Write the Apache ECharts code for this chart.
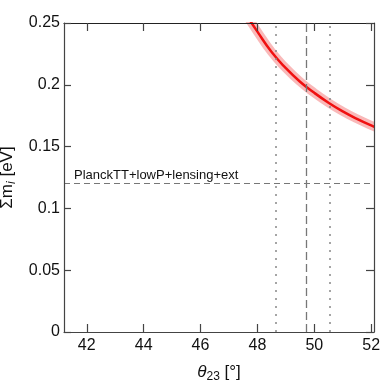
<!DOCTYPE html>
<html>
<head>
<meta charset="utf-8">
<script src="https://cdn.jsdelivr.net/npm/echarts@6/dist/echarts.min.js"></script>
<style>html,body{margin:0;padding:0;background:#fff}#c{width:382px;height:383px}</style>
</head>
<body>
<div id="c"></div>
<script>
// ---- data ----
const theta23 = [47.5, 48.0, 48.5, 49.0, 49.5, 50.0, 50.5, 51.0, 51.5, 52.0, 52.5];
const sumMass = [0.2605, 0.243, 0.2265, 0.2135, 0.2025, 0.1935, 0.1855, 0.1785, 0.1725, 0.1672, 0.1625];
const dottedTheta = [48.66, 50.56];
const dashedTheta = [49.71];
const planckLimit = 0.12;
const planckLabel = 'PlanckTT+lowP+lensing+ext';
const xTicks = [42, 44, 46, 48, 50, 52];

const font = "'Liberation Sans', Arial, sans-serif";
const pts = theta23.map((x, i) => [x, sumMass[i]]);
const axisLineStyle = { color: '#444', width: 1.2 };
const G = { left: 64, right: 8, top: 23, bottom: 51 };
const W = 382, H = 383;

const chart = echarts.init(document.getElementById('c'));
chart.setOption({
  animation: false,
  backgroundColor: '#fff',
  grid: { left: G.left, right: G.right, top: G.top, bottom: G.bottom, outerBoundsMode: 'none', containLabel: false },
  // white masks hiding the thick band's overflow outside the plot box
  graphic: [
    { type: 'rect', z: 5, silent: true, shape: { x: W - G.right + 1, y: 0, width: G.right, height: H }, style: { fill: '#fff' } },
    { type: 'rect', z: 5, silent: true, shape: { x: G.left, y: 0, width: W - G.left, height: G.top - 1 }, style: { fill: '#fff' } }
  ],
  xAxis: [{
    type: 'value', min: 41.2, max: 52.1, position: 'bottom', z: 10,
    axisLine: { show: true, onZero: false, lineStyle: axisLineStyle },
    axisTick: { show: true, inside: true, length: 8, customValues: xTicks, lineStyle: axisLineStyle },
    axisLabel: { customValues: xTicks, fontSize: 16, color: '#111', fontFamily: font, margin: 6 },
    splitLine: { show: false },
    name: '{t|θ}{s|23}{n| [°]}', nameLocation: 'middle', nameGap: 30,
    nameTextStyle: {
      fontFamily: font, color: '#111',
      rich: {
        t: { fontSize: 17, fontStyle: 'italic', fontFamily: font, color: '#111' },
        s: { fontSize: 12, fontFamily: font, color: '#111', padding: [9, 0, 0, 0] },
        n: { fontSize: 17, fontFamily: font, color: '#111' }
      }
    }
  }, {
    type: 'value', min: 41.2, max: 52.1, position: 'top', z: 10,
    axisLine: { show: true, onZero: false, lineStyle: { color: '#222', width: 1.2 } },
    axisTick: { show: true, inside: true, length: 8, customValues: xTicks, lineStyle: axisLineStyle },
    axisLabel: { show: false },
    splitLine: { show: false }
  }],
  yAxis: [{
    type: 'value', min: 0, max: 0.25, interval: 0.05, position: 'left', z: 10,
    axisLine: { show: true, onZero: false, lineStyle: axisLineStyle },
    axisTick: { show: true, inside: true, length: 7, lineStyle: axisLineStyle },
    axisLabel: { fontSize: 16, color: '#111', fontFamily: font, margin: 4 },
    splitLine: { show: false },
    name: '{t|Σm}{s|i}{n| [eV]}', nameLocation: 'middle', nameGap: 42, nameRotate: 90,
    nameTextStyle: {
      fontFamily: font, color: '#111',
      rich: {
        t: { fontSize: 17, fontFamily: font, color: '#111' },
        s: { fontSize: 12, fontStyle: 'italic', fontFamily: font, color: '#111', padding: [9, 0, 0, 0] },
        n: { fontSize: 17, fontFamily: font, color: '#111' }
      }
    }
  }, {
    type: 'value', min: 0, max: 0.25, interval: 0.05, position: 'right', z: 10,
    axisLine: { show: true, onZero: false, lineStyle: axisLineStyle },
    axisTick: { show: true, inside: true, length: 8, lineStyle: axisLineStyle },
    axisLabel: { show: false },
    splitLine: { show: false }
  }],
  series: [
    {
      type: 'line', data: [], silent: true, z: 1,
      markLine: {
        silent: true, symbol: 'none', animation: false,
        data: [
          { yAxis: planckLimit, lineStyle: { type: [6, 4], color: '#777', width: 1.2 },
            label: { show: true, formatter: planckLabel, position: 'insideStartTop', distance: [10, 2],
                     fontSize: 13, fontFamily: font, color: '#111' } },
          ...dottedTheta.map(v => ({ xAxis: v, lineStyle: { type: [2, 6], color: '#888', width: 1.5 }, label: { show: false } })),
          ...dashedTheta.map(v => ({ xAxis: v, lineStyle: { type: [8, 4], color: '#777', width: 1.3 }, label: { show: false } }))
        ]
      }
    },
    {
      type: 'line', data: pts, smooth: true, showSymbol: false, symbol: 'none', clip: true, z: 3,
      lineStyle: { color: 'rgba(240,80,80,0.4)', width: 9 }
    },
    {
      type: 'line', data: pts, smooth: true, showSymbol: false, symbol: 'none', clip: true, z: 4,
      lineStyle: { color: '#f01010', width: 2.5 }
    }
  ]
});
</script>
</body>
</html>
